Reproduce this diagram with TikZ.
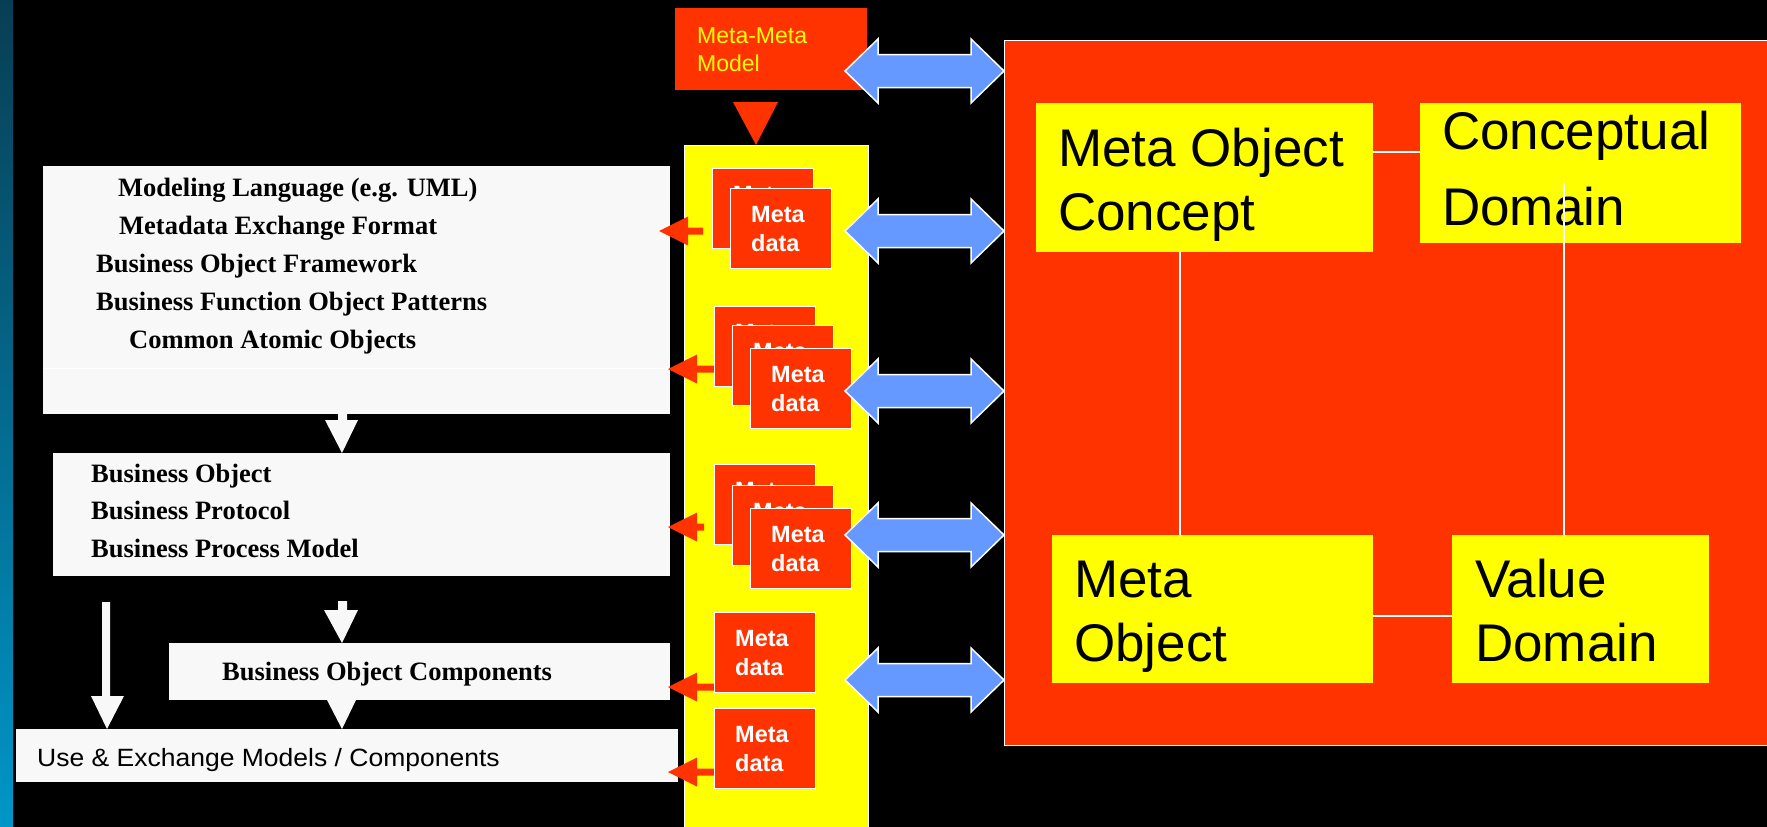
\documentclass[tikz,border=0pt]{standalone}
\usepackage{fontspec}
\setmainfont{Liberation Sans}
\newfontfamily\timesfont{Liberation Serif}
\newfontfamily\widefont{Liberation Sans}[FakeStretch=1.06]

\definecolor{pptred}{RGB}{255,51,0}
\definecolor{pptyellow}{RGB}{255,255,0}
\definecolor{pptblue}{RGB}{102,153,255}
\definecolor{boxgrey}{RGB}{248,248,248}
\definecolor{stripetop}{RGB}{8,62,84}
\definecolor{stripebot}{RGB}{0,150,200}

\tikzset{
  box/.style={anchor=north west, inner sep=0pt, outer sep=0pt},
  greybox/.style={box, fill=boxgrey},
  redbox/.style={box, fill=pptred},
  yellowbox/.style={box, fill=pptyellow},
  metabox/.style={box, fill=pptred, draw=white, line width=1pt,
    minimum width=101pt, minimum height=80pt},
  listtext/.style={anchor=base west, inner sep=0pt,
    font=\timesfont\bfseries\fontsize{26.5}{30}\selectfont},
  usetext/.style={anchor=base west, inner sep=0pt, font=\widefont\fontsize{25}{30}\selectfont},
  metatext/.style={anchor=base west, inner sep=0pt, text=white,
    font=\bfseries\fontsize{23.5}{28}\selectfont},
  mmtext/.style={anchor=base west, inner sep=0pt, text=pptyellow,
    font=\fontsize{23}{28}\selectfont},
  bigtext/.style={anchor=base west, inner sep=0pt, font=\fontsize{53}{60}\selectfont},
  link/.style={white, line width=1.5pt},
  bluearrow/.style={fill=pptblue, draw=white, line width=1.5pt},
}

\begin{document}
\begin{tikzpicture}[x=1pt,y=-1pt]

% Background
\useasboundingbox (0,0) rectangle (1767,827);
\fill[black] (0,0) rectangle (1767,827);
\shade[top color=stripetop, bottom color=stripebot] (0,0) rectangle (13,827);

% Grey model boxes
\node[greybox, minimum width=627pt, minimum height=248pt] (modbox) at (43,166) {};
\node[greybox, minimum width=617pt, minimum height=123pt] (bobox) at (53,453) {};
\node[greybox, minimum width=501pt, minimum height=57pt] (bocbox) at (169,643) {};
\node[greybox, minimum width=662pt, minimum height=53pt] (usebox) at (16,729) {};
\draw[white, line width=1pt] (modbox.west |- 0,368) -- (modbox.east |- 0,368);

% Box texts
\foreach \i/\x/\y/\t in {1/118/196/{Modeling Language (e.g. UML)},
    2/119/234/{Metadata Exchange Format}, 3/96/272/{Business Object Framework},
    4/96/310/{Business Function Object Patterns}, 5/129/348/{Common Atomic Objects}}
  \node[listtext] (ml\i) at (\x,\y) {\t};
\foreach \i/\y/\t in {1/482/{Business Object}, 2/519/{Business Protocol},
    3/557/{Business Process Model}}
  \node[listtext] (bo\i) at (91,\y) {\t};
\node[listtext] (boc) at (222,680) {Business Object Components};
\node[usetext] (use) at (37,766) {Use \& Exchange Models / Components};

% White arrows between boxes
\fill[boxgrey] (338,0 |- modbox.south) -- ++(0,6) -- ++(-13,0) -- (342,0 |- bobox.north)
  -- (358,420) -- ++(-11,0) -- (347,0 |- modbox.south) -- cycle;
\fill[boxgrey] (102,602) -- (102,696) -- (91,696) -- (107,0 |- usebox.north)
  -- (124,696) -- (110,696) -- (110,602) -- cycle;
\fill[boxgrey] (338,601) -- (338,610) -- (324,610) -- (342,0 |- bocbox.north)
  -- (358,610) -- (347,610) -- (347,601) -- cycle;
\fill[boxgrey] (327,0 |- bocbox.south) -- (342,0 |- usebox.north) -- (356,0 |- bocbox.south) -- cycle;

% Meta-Meta model
\node[redbox, minimum width=192pt, minimum height=82pt] (mmbox) at (675,8) {};
\node[mmtext] (mm1) at (697,43) {Meta-Meta};
\node[mmtext] (mm2) at (697,71) {Model};
\fill[pptred] (733,102) -- (778,102) -- (756,145) -- cycle;

% Metadata column
\node[yellowbox, draw=white, line width=1pt, minimum width=184pt, minimum height=690pt]
  (metacol) at (684,145) {};

% Red arrows to the models
\foreach \tip/\y/\e in {659/231/703, 668/369/714, 668/527/704, 668/687/714, 668/772/714}
  \fill[pptred] (\tip,\y) -- ({\tip+29},{\y-14.5}) -- ({\tip+29},{\y-3.5}) -- (\e,{\y-3.5})
    -- (\e,{\y+3.5}) -- ({\tip+29},{\y+3.5}) -- ({\tip+29},{\y+14.5}) -- cycle;

% Metadata boxes
\foreach \n/\x/\y in {a1/712/168, a2/730/188, b1/714/306, b2/732/325, b3/750/348,
    c1/714/464, c2/732/485, c3/750/508, d1/714/612, e1/714/708} {
  \node[metabox] (\n) at (\x,\y) {};
  \node[metatext] (\n-top) at ([xshift=21pt,yshift=-34pt]\n.north west) {Meta};
  \node[metatext] (\n-bot) at ([xshift=21pt,yshift=-63pt]\n.north west) {data};
}

% Blue double arrows
\foreach \y in {71,231,391,535,680}
  \draw[bluearrow] (845,\y) -- ++(33,-32) -- ++(0,15.5) -- ++(93,0) -- ++(0,-15.5)
    -- ++(33,32) -- ++(-33,32) -- ++(0,-15.5) -- ++(-93,0) -- ++(0,15.5) -- cycle;

% Metamodel
\node[redbox, draw=white, line width=1pt, minimum width=770pt, minimum height=705pt]
  (modelbox) at (1004,40) {};
\node[yellowbox, minimum width=337pt, minimum height=149pt] (moc) at (1036,103) {};
\node[yellowbox, minimum width=321pt, minimum height=140pt] (cd) at (1420,103) {};
\node[yellowbox, minimum width=321pt, minimum height=148pt] (mo) at (1052,535) {};
\node[yellowbox, minimum width=257pt, minimum height=148pt] (vd) at (1452,535) {};

% Labels
\node[bigtext] (moc1) at (1058,166) {Meta Object};
\node[bigtext] (moc2) at (1058,230) {Concept};
\node[bigtext] (cd1) at (1442,149) {Conceptual};
\node[bigtext] (cd2) at (1442,225) {Domain};
\node[bigtext] (mo1) at (1074,597) {Meta};
\node[bigtext] (mo2) at (1074,661) {Object};
\node[bigtext] (vd1) at (1475,597) {Value};
\node[bigtext] (vd2) at (1475,661) {Domain};

% Links
\draw[link] (moc.east |- 0,152) -- (cd.west |- 0,152);
\draw[link] (mo.east |- 0,616) -- (vd.west |- 0,616);
\draw[link] (moc.south -| 1180,0) -- (mo.north -| 1180,0);
\draw[link] (1564,183) -- (vd.north -| 1564,0);

\end{tikzpicture}
\end{document}
